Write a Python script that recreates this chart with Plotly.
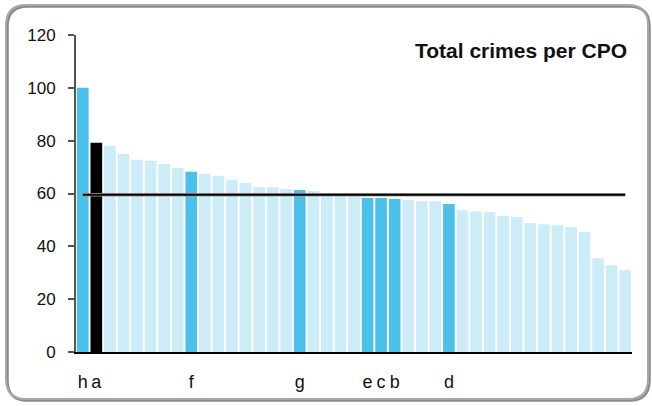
import plotly.graph_objects as go

# ---- data ----
cpo_ids = [f"CPO{i+1}" for i in range(41)]
crimes = [100, 79.2, 78.1, 75.0, 72.8, 72.4, 71.2, 69.7, 68.2, 67.5,
          66.7, 65.2, 64.0, 62.4, 62.4, 61.7, 61.3, 60.9, 59.9, 59.7,
          59.5, 58.3, 58.3, 57.9, 57.5, 57.1, 57.1, 56.0, 53.7, 53.3,
          53.0, 51.5, 51.1, 48.8, 48.4, 48.0, 47.3, 45.4, 35.5, 32.8, 30.9]
tick_labels = ["h", "a", "", "", "", "", "", "", "f", "", "", "", "", "", "", "",
               "g", "", "", "", "", "e", "c", "b", "", "", "", "d", "", "", "",
               "", "", "", "", "", "", "", "", "", ""]
highlight = ["hi", "sel", "", "", "", "", "", "", "hi", "", "", "", "", "", "", "",
             "hi", "", "", "", "", "hi", "hi", "hi", "", "", "", "hi", "", "", "",
             "", "", "", "", "", "", "", "", "", ""]
average = 59.5
chart_title = "Total crimes per CPO"

color_map = {"hi": "#4AC0EB", "sel": "#000000", "": "#CCECF8"}
bar_colors = [color_map[h] for h in highlight]

W, H = 652, 406
ML, MR, MT, MB = 76, 20, 35, 54
PW, PH = W - ML - MR, H - MT - MB

fig = go.Figure()
fig.add_trace(go.Bar(x=cpo_ids, y=crimes, marker=dict(color=bar_colors, line=dict(width=0)),
                     showlegend=False))
fig.add_trace(go.Scatter(x=[cpo_ids[0], cpo_ids[-1]], y=[average, average], mode="lines",
                         line=dict(color="#a0a0a0", width=3.5), showlegend=False, hoverinfo="skip"))
fig.add_trace(go.Scatter(x=[cpo_ids[0], cpo_ids[-1]], y=[average, average], mode="lines",
                         line=dict(color="#000000", width=2), showlegend=False))

def px2paper(px, py):
    return (px - ML) / PW, (H - MB - py) / PH

def rounded_path(x0, y0, x1, y1, r):
    def P(x, y):
        a, b = px2paper(x, y)
        return f"{a:.5f},{b:.5f}"
    d = (f"M {P(x0 + r, y0)} L {P(x1 - r, y0)} Q {P(x1, y0)} {P(x1, y0 + r)} "
         f"L {P(x1, y1 - r)} Q {P(x1, y1)} {P(x1 - r, y1)} "
         f"L {P(x0 + r, y1)} Q {P(x0, y1)} {P(x0, y1 - r)} "
         f"L {P(x0, y0 + r)} Q {P(x0, y0)} {P(x0 + r, y0)} Z")
    return d

shapes = [
    dict(type="path", xref="paper", yref="paper", path=rounded_path(7.5, 6.5, 649.5, 400.5, 20),
         line=dict(color="#8a8a8a", width=2.5), layer="below"),
    dict(type="path", xref="paper", yref="paper", path=rounded_path(6, 5, 648, 399, 20),
         line=dict(color="#a8a8a8", width=2), layer="below"),
]

fig.update_layout(
    width=W, height=H,
    margin=dict(l=ML, r=MR, t=MT, b=MB),
    paper_bgcolor="white", plot_bgcolor="white",
    bargap=0.14,
    font=dict(family="Liberation Sans, Arial, sans-serif", size=17, color="#111111"),
    shapes=shapes,
    xaxis=dict(type="category", tickmode="array", tickvals=cpo_ids, ticktext=tick_labels,
               showline=True, linecolor="#000000", linewidth=1.5, ticks="",
               showgrid=False, zeroline=False, ticklabelstandoff=13,
               tickfont=dict(size=18),
               range=[-0.5, len(cpo_ids) - 0.5], fixedrange=True),
    yaxis=dict(range=[0, 120], dtick=20, showline=True, linecolor="#555555", linewidth=2,
               ticks="outside", ticklen=6, tickwidth=1.5, tickcolor="#555555",
               showgrid=False, zeroline=False, ticklabelstandoff=9),
    annotations=[dict(text=f"<b>{chart_title}</b>", xref="paper", yref="paper",
                      x=px2paper(629, 50)[0], y=px2paper(629, 50)[1],
                      xanchor="right", yanchor="middle", showarrow=False,
                      font=dict(size=21, color="#111111"))],
)

fig.write_html("out.html", config={"displayModeBar": False},
               post_script="document.body.style.margin='0';document.body.style.overflow='hidden';")
